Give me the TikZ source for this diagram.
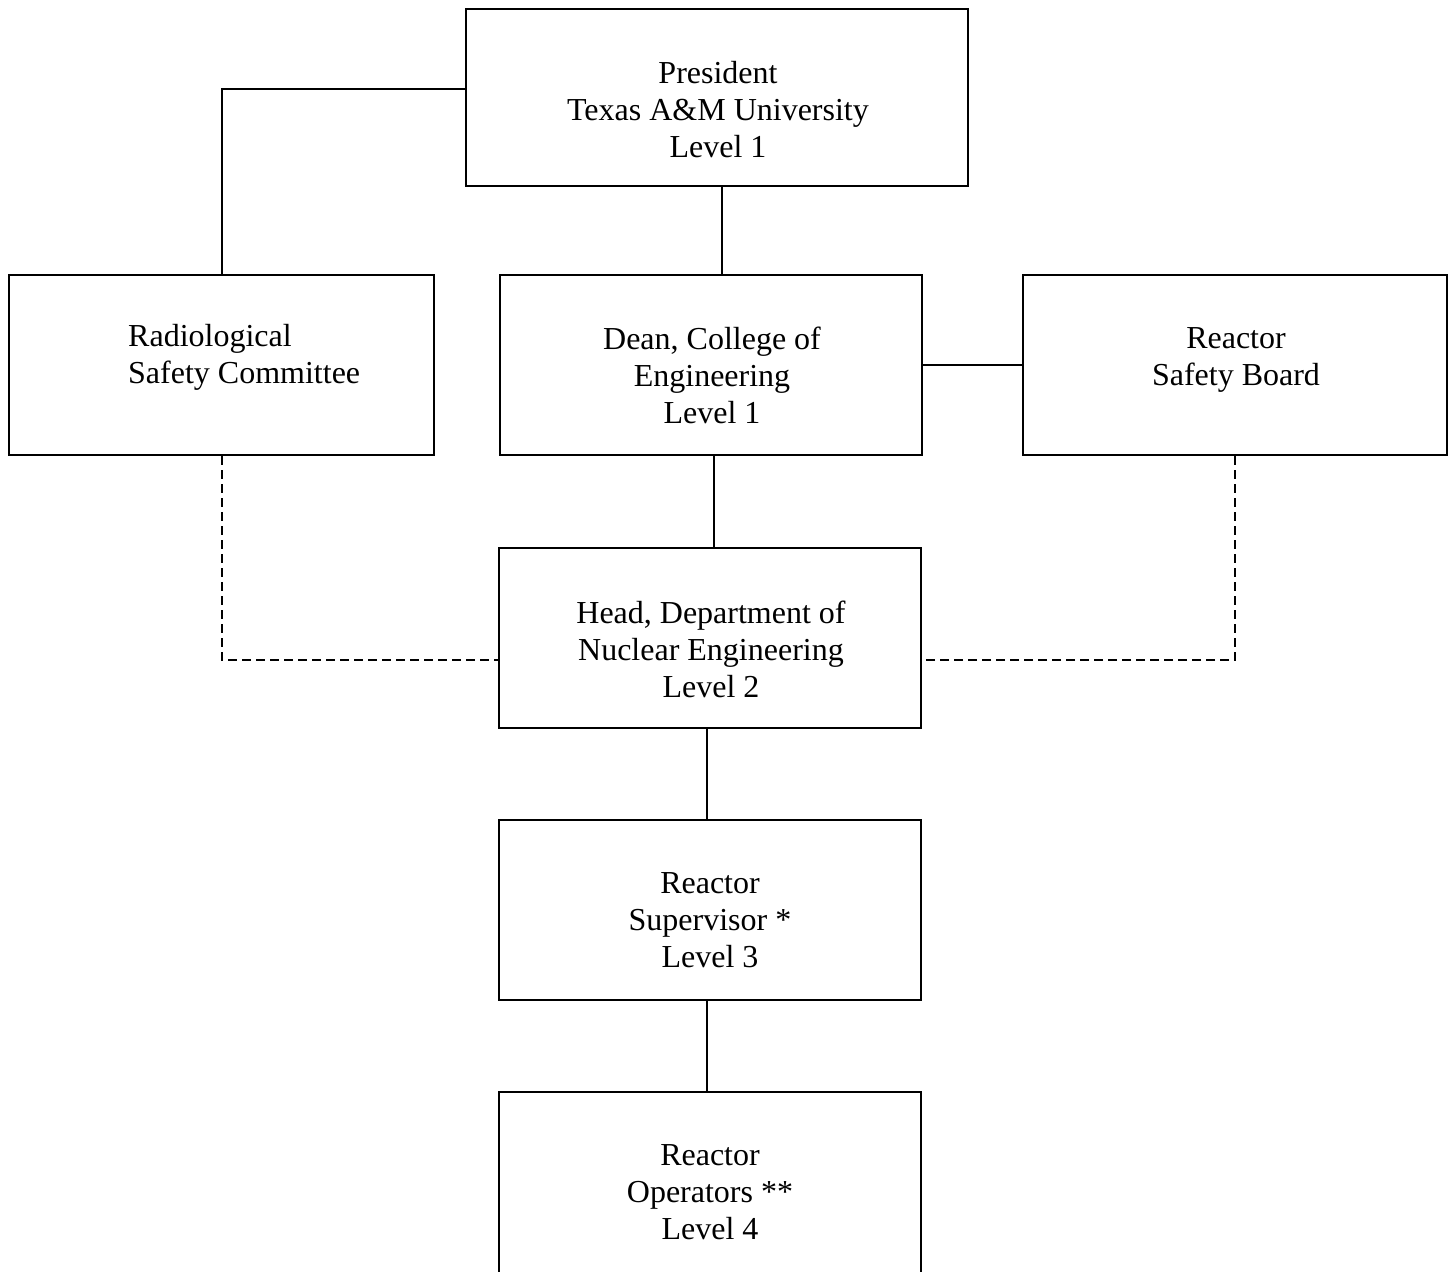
\documentclass[tikz,border=0pt]{standalone}
\usepackage{fontspec}
\setmainfont{Liberation Serif}
\begin{document}
\begin{tikzpicture}[x=1pt,y=-1pt,
  orgbox/.style={draw=black,line width=2pt,rectangle,inner sep=0pt,fill=none},
  orgtext/.style={font=\fontsize{32}{37}\selectfont,align=center,inner sep=0pt},
  link/.style={draw=black,line width=2pt},
  dotlink/.style={draw=black,line width=2pt,dash pattern=on 9pt off 5pt}]
\useasboundingbox[fill=white] (0,0) rectangle (1455,1271);
% boxes
\node[orgbox,minimum width=502pt,minimum height=177pt] (pres) at (717,97.5) {};
\node[orgbox,minimum width=425pt,minimum height=180pt] (rad) at (221.5,365) {};
\node[orgbox,minimum width=422pt,minimum height=180pt] (dean) at (711,365) {};
\node[orgbox,minimum width=424pt,minimum height=180pt] (rsb) at (1235,365) {};
\node[orgbox,minimum width=422pt,minimum height=180pt] (head) at (710,638) {};
\node[orgbox,minimum width=422pt,minimum height=180pt] (sup) at (710,910) {};
\node[orgbox,minimum width=422pt,minimum height=182pt] (op) at (710,1183) {};
% texts
\node[orgtext] (presT) at (718,110) {President\\Texas A\&M University\\Level 1};
\node[orgtext,align=left,anchor=west] (radT) at (128,357) {Radiological\\Safety Committee};
\node[orgtext] (deanT) at (712,375) {Dean, College of\\Engineering\\Level 1};
\node[orgtext] (rsbT) at (1236,360) {Reactor\\Safety Board};
\node[orgtext] (headT) at (711,649) {Head, Department of\\Nuclear Engineering\\Level 2};
\node[orgtext] (supT) at (710,920) {Reactor\\Supervisor *\\Level 3};
\node[orgtext] (opT) at (710,1192) {Reactor\\Operators **\\Level 4};
% connectors
\draw[link] ([yshift=8.5pt]pres.west) -| ([xshift=0.5pt]rad.north);
\draw[link] ([xshift=5pt]pres.south) -- ([xshift=5pt]pres.south |- dean.north);
\draw[link] (dean.east) -- (rsb.west);
\draw[link] ([xshift=3pt]dean.south) -- ([xshift=3pt]dean.south |- head.north);
\draw[link] ([xshift=-3pt]head.south) -- ([xshift=-3pt]head.south |- sup.north);
\draw[link] ([xshift=-3pt]sup.south) -- ([xshift=-3pt]sup.south |- op.north);
\draw[dotlink] ([xshift=0.5pt]rad.south) |- ([yshift=-22pt]head.west);
\draw[dotlink] (rsb.south) |- ([yshift=-22pt]head.east);
\end{tikzpicture}
\end{document}
